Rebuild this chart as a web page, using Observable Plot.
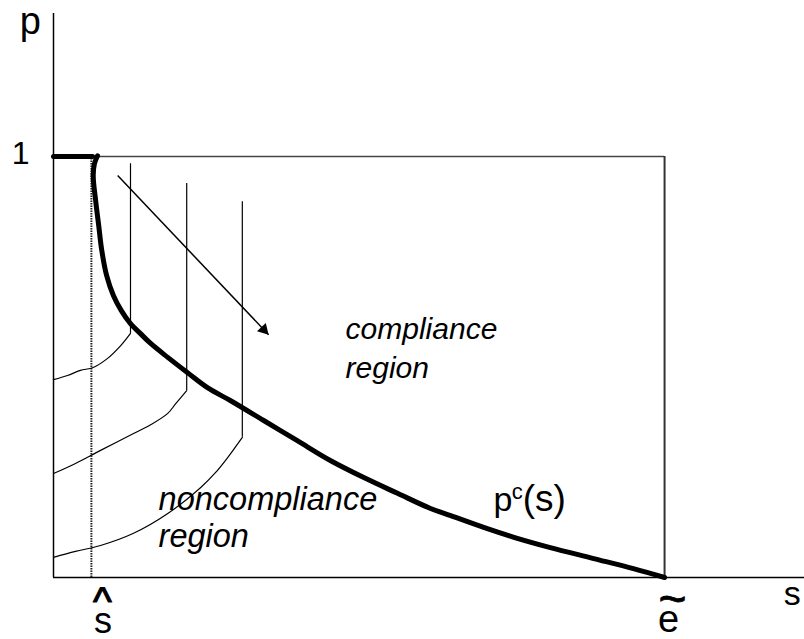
<!DOCTYPE html>
<html><head><meta charset="utf-8">
<script src="https://cdn.jsdelivr.net/npm/d3@7"></script>
<script src="https://cdn.jsdelivr.net/npm/@observablehq/plot@0.6"></script>
<style>body{margin:0;background:#fff}</style>
</head><body><div id="chart"></div>
<script>
// key abscissae (ŝ and ẽ) and the compliance threshold level p = 1
const sHat = 0.062;
const eTilde = 1.0;
const pTop = 1.0;
const sMax = 1.229;
const pMax = 1.34;

// flat part of p^c(s) at p = 1 for s < ŝ
const flatS = [0, 0.064];
const flatP = [1, 1];

// compliance boundary p^c(s)
const pcS = [0.072, 0.067, 0.065, 0.069, 0.074, 0.079, 0.087, 0.098, 0.111, 0.126, 0.142, 0.159, 0.187, 0.219, 0.252, 0.290, 0.344, 0.399, 0.453, 0.507, 0.563, 0.617, 0.650, 0.704, 0.759, 0.813, 0.884, 0.949, 1.0];
const pcP = [1.002, 0.983, 0.955, 0.895, 0.836, 0.777, 0.717, 0.670, 0.634, 0.603, 0.580, 0.556, 0.523, 0.487, 0.451, 0.420, 0.373, 0.325, 0.278, 0.238, 0.200, 0.164, 0.147, 0.119, 0.093, 0.071, 0.045, 0.021, 0];

// three indifference curves: vertical part (s, top, corner) and the arc below the corner
const icS = [0.126, 0.218, 0.309];
const icTop = [0.983, 0.936, 0.893];
const icCorner = [0.580, 0.444, 0.333];
const ic1S = [0.126, 0.110, 0.088, 0.065, 0.044, 0.023, 0];
const ic1P = [0.580, 0.551, 0.520, 0.499, 0.492, 0.480, 0.470];
const ic2S = [0.218, 0.200, 0.187, 0.159, 0.131, 0.077, 0.036, 0];
const ic2P = [0.444, 0.413, 0.390, 0.363, 0.342, 0.302, 0.271, 0.247];
const ic3S = [0.309, 0.285, 0.265, 0.241, 0.187, 0.131, 0.077, 0.036, 0];
const ic3P = [0.333, 0.285, 0.249, 0.214, 0.152, 0.105, 0.076, 0.062, 0.048];

// direction arrow
const arrowFrom = [0.105, 0.955];
const arrowTo = [0.352, 0.577];

const pts = (xs, ys) => xs.map((x, i) => ({s: x, p: ys[i]}));
const arcs = [
  ...pts(ic1S, ic1P).map(d => ({...d, k: 1})),
  ...pts(ic2S, ic2P).map(d => ({...d, k: 2})),
  ...pts(ic3S, ic3P).map(d => ({...d, k: 3}))
];
const verticals = icS.map((s, i) => ({s, top: icTop[i], corner: icCorner[i]}));
const arrowData = [{x1: arrowFrom[0], y1: arrowFrom[1], x2: arrowTo[0], y2: arrowTo[1]}];

const font = "'Liberation Sans', Arial, Helvetica, sans-serif";

const chart = Plot.plot({
  width: 804,
  height: 639,
  marginLeft: 53,
  marginRight: 0,
  marginTop: 13,
  marginBottom: 62,
  x: {domain: [0, sMax], axis: null},
  y: {domain: [0, pMax], axis: null},
  style: {fontFamily: font, background: "#fff", overflow: "visible"},
  marks: [
    // box lines
    Plot.ruleY([pTop], {x1: 0.072, x2: eTilde, stroke: "#444", strokeWidth: 1.5}),
    Plot.ruleX([eTilde], {y1: 0, y2: pTop, stroke: "#333", strokeWidth: 2}),
    Plot.ruleX([sHat], {y1: 0, y2: pTop, stroke: "#222", strokeWidth: 2, strokeDasharray: "1.5,1"}),
    // indifference curves
    Plot.ruleX(verticals, {x: "s", y1: "corner", y2: "top", stroke: "#000", strokeWidth: 1.2}),
    Plot.line(arcs, {x: "s", y: "p", z: "k", curve: "catmull-rom", stroke: "#000", strokeWidth: 1.2}),
    // axes
    Plot.ruleX([0], {stroke: "#000", strokeWidth: 1.5}),
    Plot.ruleY([0], {stroke: "#000", strokeWidth: 1.5}),
    // p^c(s)
    Plot.line(pts(flatS, flatP), {x: "s", y: "p", stroke: "#000", strokeWidth: 5}),
    Plot.line(pts(pcS, pcP), {x: "s", y: "p", curve: "catmull-rom", stroke: "#000", strokeWidth: 5, strokeLinecap: "round", strokeLinejoin: "round"}),
    // arrow: shaft plus filled head
    Plot.link(arrowData, {x1: "x1", y1: "y1", x2: "x2", y2: "y2", stroke: "#000", strokeWidth: 1.5}),
    Plot.dot(arrowData, {x: "x2", y: "y2", symbol: "triangle", r: 4.5, fill: "#000", stroke: "none", rotate: 136.4, dx: -4.8, dy: -5}),
    // labels
    Plot.text(["p"], {x: -0.038, y: 1.292, fontSize: 38, textAnchor: "middle", lineAnchor: "bottom", fill: "#000"}),
    Plot.text(["1"], {x: -0.039, y: 0.983, fontSize: 32, textAnchor: "end", lineAnchor: "bottom", fill: "#000"}),
    Plot.text(["s"], {x: 1.209, y: -0.0665, fontSize: 34, textAnchor: "middle", lineAnchor: "bottom", fill: "#000"}),
    Plot.text(["^"], {x: 0.080, y: -0.088, fontSize: 40, textAnchor: "middle", lineAnchor: "bottom", fill: "#000", stroke: "#000", strokeWidth: 1.2}),
    Plot.text(["s"], {x: 0.081, y: -0.133, fontSize: 36, textAnchor: "middle", lineAnchor: "bottom", fill: "#000"}),
    Plot.text(["~"], {x: 1.013, y: -0.090, fontSize: 48, textAnchor: "middle", lineAnchor: "bottom", fill: "#000", stroke: "#000", strokeWidth: 0.8}),
    Plot.text(["e"], {x: 1.0065, y: -0.1306, fontSize: 38, textAnchor: "middle", lineAnchor: "bottom", fill: "#000"}),
    Plot.text(["compliance\nregion"], {x: 0.478, y: 0.475, fontSize: 30, fontStyle: "italic", textAnchor: "start", lineAnchor: "bottom", lineHeight: 1.27, fill: "#000"}),
    Plot.text(["noncompliance\nregion"], {x: 0.172, y: 0.0736, fontSize: 32.5, fontStyle: "italic", textAnchor: "start", lineAnchor: "bottom", lineHeight: 1.11, fill: "#000"}),
    Plot.text(["p"], {x: 0.720, y: 0.159, fontSize: 34, textAnchor: "start", lineAnchor: "bottom", fill: "#000"}),
    Plot.text(["c"], {x: 0.750, y: 0.187, fontSize: 22, textAnchor: "start", lineAnchor: "bottom", fill: "#000"}),
    Plot.text(["(s)"], {x: 0.768, y: 0.159, fontSize: 37, textAnchor: "start", lineAnchor: "bottom", fill: "#000"})
  ]
});
document.getElementById("chart").appendChild(chart);
</script>
</body></html>
